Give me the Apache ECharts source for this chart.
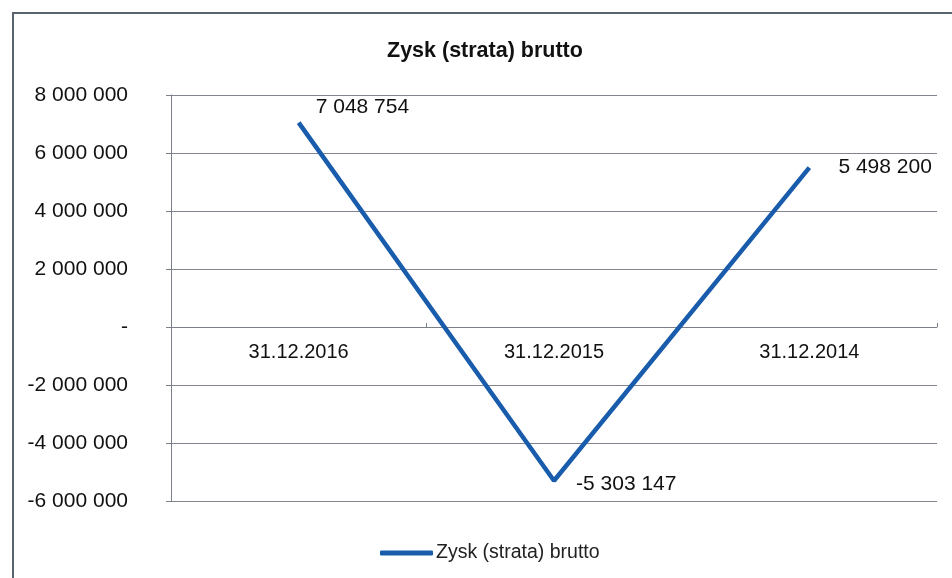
<!DOCTYPE html>
<html>
<head>
<meta charset="utf-8">
<script src="https://cdn.jsdelivr.net/npm/echarts@6/dist/echarts.min.js"></script>
<style>
  html, body { margin: 0; padding: 0; background: #fff; }
  .frame { position: absolute; left: 12px; top: 12px; width: 960px; height: 600px;
    border-top: 2px solid #5a6470; border-left: 2px solid #5a6470; box-sizing: border-box; }
  #chart { position: absolute; left: 0; top: 0; width: 952px; height: 578px; }
</style>
</head>
<body>
<div class="frame"></div>
<div id="chart"></div>
<script>
const categories = ['31.12.2016', '31.12.2015', '31.12.2014']
const profitValues = [7048754, -5303147, 5498200]
const seriesName = 'Zysk (strata) brutto'

function fmt (v) {
  if (v === 0) return '-'
  let s = Math.abs(Math.round(v)).toString().replace(/\B(?=(\d{3})+(?!\d))/g, ' ')
  return (v < 0 ? '-' : '') + s
}

// label shifts from the point, per category
const labelOffsets = [[12, -15], [17, 3], [24, 0]]

let chart = echarts.init(document.getElementById('chart'))
let option = {
  animation: false,
  textStyle: { fontFamily: 'Liberation Sans, Arial, sans-serif' },
  title: {
    text: seriesName,
    left: 382,
    top: 35,
    textStyle: { fontSize: 21.5, fontWeight: 'bold', color: '#111' }
  },
  grid: { left: 171, right: 15, top: 95, bottom: 77 },
  legend: {
    top: 538,
    left: 375,
    itemWidth: 53,
    itemHeight: 5,
    itemGap: 4,
    icon: 'roundRect',
    textStyle: { fontSize: 19.5, color: '#222', padding: [0, 0, 0, -2] },
    data: [seriesName]
  },
  xAxis: {
    type: 'category',
    data: categories,
    boundaryGap: true,
    offset: -174,
    axisLine: { onZero: false, lineStyle: { color: '#7a7f88', width: 1 } },
    axisTick: { show: true, length: 4, inside: true, lineStyle: { color: '#7a7f88' } },
    axisLabel: { fontSize: 20, color: '#111', margin: 15 }
  },
  yAxis: {
    type: 'value',
    min: -6000000,
    max: 8000000,
    interval: 2000000,
    axisLine: { show: true, lineStyle: { color: '#7a7f88', width: 1 } },
    axisTick: { show: true, length: 5, lineStyle: { color: '#7a7f88' } },
    splitLine: { show: true, lineStyle: { color: '#80858e', width: 1 } },
    axisLabel: { fontSize: 21, color: '#111', margin: 43, formatter: fmt }
  },
  series: [{
    name: seriesName,
    type: 'line',
    data: profitValues.map((v, i) => ({
      value: v,
      label: { offset: labelOffsets[i] }
    })),
    symbol: 'circle',
    symbolSize: 0.1,
    showSymbol: true,
    lineStyle: { color: '#1a5cac', width: 4.5 },
    itemStyle: { color: '#1a5cac' },
    label: {
      show: true,
      position: 'right',
      fontSize: 21,
      color: '#111',
      formatter: p => fmt(p.value)
    }
  }]
}
chart.setOption(option)
</script>
</body>
</html>
